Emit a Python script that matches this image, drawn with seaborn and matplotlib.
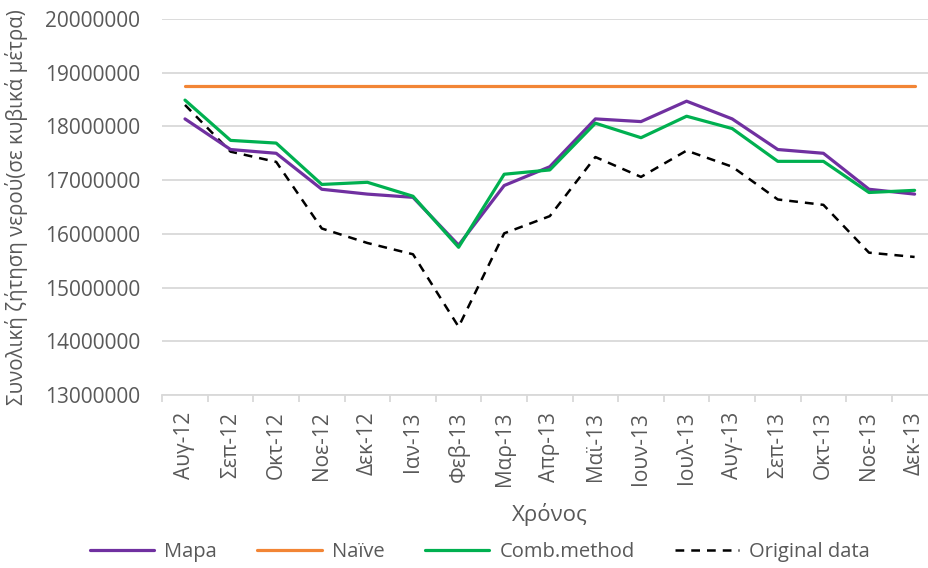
import matplotlib
matplotlib.use("Agg")
import matplotlib.pyplot as plt
from matplotlib.ticker import FixedLocator
import seaborn as sns
import pandas as pd

months = ["Αυγ-12", "Σεπ-12", "Οκτ-12", "Νοε-12", "Δεκ-12", "Ιαν-13", "Φεβ-13",
          "Μαρ-13", "Απρ-13", "Μαϊ-13", "Ιουν-13", "Ιουλ-13", "Αυγ-13", "Σεπ-13",
          "Οκτ-13", "Νοε-13", "Δεκ-13"]

mapa = [18140000, 17570000, 17500000, 16830000, 16740000, 16680000, 15790000,
        16900000, 17250000, 18140000, 18090000, 18470000, 18140000, 17570000,
        17500000, 16830000, 16740000]
naive = [18760000] * 17
comb = [18490000, 17740000, 17690000, 16920000, 16960000, 16700000, 15750000,
        17110000, 17190000, 18060000, 17790000, 18190000, 17960000, 17350000,
        17350000, 16770000, 16810000]
original = [18400000, 17530000, 17340000, 16100000, 15830000, 15620000, 14270000,
            16010000, 16330000, 17430000, 17060000, 17550000, 17250000, 16640000,
            16540000, 15650000, 15570000]

series_names = ["Mapa", "Naïve", "Comb.method", "Original data"]
series_values = [mapa, naive, comb, original]
colors = ["#7030A0", "#F28535", "#00B050", "#000000"]

sns.set_theme(style="white")
plt.rcParams["font.family"] = ["Open Sans", "DejaVu Sans"]

fig = plt.figure(figsize=(9.29, 5.68), dpi=100)
W, H = 929, 568
left, right, top, bottom = 162.2, 937.4, 19, 395
ax = fig.add_axes([left / W, 1 - bottom / H, (right - left) / W, (bottom - top) / H])

x = list(range(len(months)))
for name, vals, col in zip(series_names, series_values, colors):
    df = pd.DataFrame({"x": x, "y": vals})
    if name == "Original data":
        sns.lineplot(data=df, x="x", y="y", ax=ax, color=col, lw=1.8,
                     linestyle=(0, (3.5, 2.8)), label=name, zorder=3)
    else:
        sns.lineplot(data=df, x="x", y="y", ax=ax, color=col, lw=2.3,
                     label=name, zorder=4 if name != "Naïve" else 2)

ax.set_xlim(-0.5, 16.5)
ax.set_ylim(13000000, 20000000)
ax.set_yticks(range(13000000, 20000001, 1000000))
ax.set_yticklabels([str(v) for v in range(13000000, 20000001, 1000000)])
ax.grid(axis="y", color="#D9D9D9", lw=1.3)
ax.set_axisbelow(True)

for s in ["top", "right", "left"]:
    ax.spines[s].set_visible(False)
ax.spines["bottom"].set_color("#D9D9D9")
ax.spines["bottom"].set_linewidth(1.3)

ax.set_xticks(x)
ax.set_xticklabels(months, rotation=90)
ax.xaxis.set_minor_locator(FixedLocator([i - 0.5 for i in range(18)]))
ax.tick_params(axis="x", which="major", length=0, pad=12, labelsize=15, labelcolor="#595959")
ax.tick_params(axis="x", which="minor", bottom=True, length=5, width=1.3, color="#D9D9D9")
ax.tick_params(axis="y", length=0, pad=16, labelsize=15, labelcolor="#595959")

ax.set_xlabel("Χρόνος", fontsize=16, color="#595959", labelpad=12)
ax.set_ylabel("Συνολική ζήτηση νερού(σε κυβικά μέτρα)", fontsize=14.8, color="#595959")
ax.yaxis.set_label_coords((28 - left) / (right - left), 0.5)

ax.get_legend().remove()
handles, labels = ax.get_legend_handles_labels()
fig.legend(handles, labels, loc="center", bbox_to_anchor=(480 / W, 1 - 552 / H),
           ncol=4, frameon=False, fontsize=14.5, labelcolor="#595959",
           handlelength=3.2, columnspacing=2.0, handletextpad=0.5)

fig.savefig("out.png", dpi=100)
